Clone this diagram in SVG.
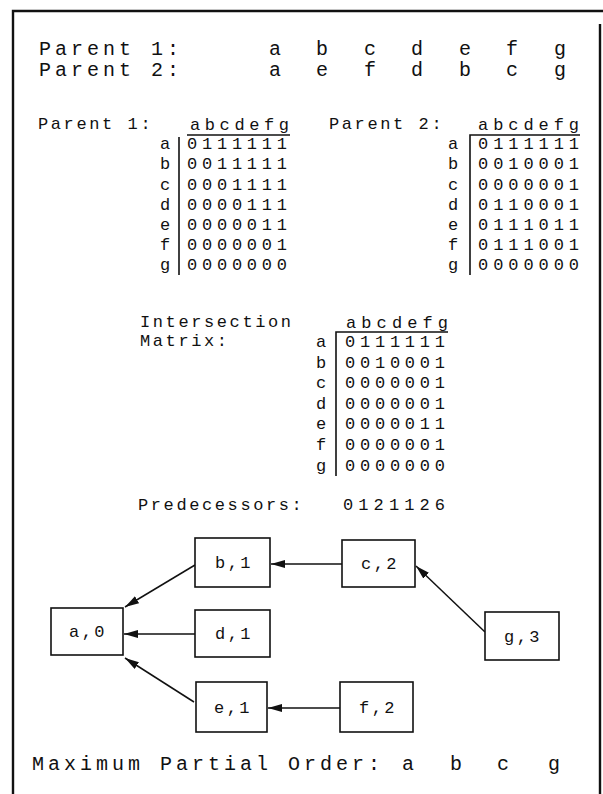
<svg xmlns="http://www.w3.org/2000/svg" width="603" height="794" viewBox="0 0 603 794">
<style>
text{font-family:"Liberation Mono","DejaVu Sans Mono",monospace;fill:#111}
.t{font-size:20px;letter-spacing:4px}
.tl{font-size:20px;text-anchor:middle}
.s{font-size:17px;letter-spacing:2.6px}
.m{font-size:17px}
.lb{font-size:17px;text-anchor:middle}
.n{font-size:17px;text-anchor:middle;letter-spacing:2.5px}
.ln{stroke:#111;stroke-width:1.6;fill:none}
.fr{stroke:#111;stroke-width:2.4;fill:none}
.box{stroke:#111;stroke-width:1.6;fill:#fff}
.edge{stroke:#111;stroke-width:1.5;fill:none;marker-end:url(#ah)}
</style>
<defs>
<marker id="ah" markerUnits="userSpaceOnUse" markerWidth="15" markerHeight="10" refX="14" refY="4" orient="auto">
<path d="M0,0 L14,4 L0,8 z" fill="#111"/>
</marker>
</defs>
<rect width="603" height="794" fill="#fff"/>
<g id="frame">
<path class="fr" d="M13,794 L13,11 L603,11"/>
<path class="fr" d="M600,24 L600,794"/>
</g>
<g id="parents">
<text class="t" x="39" y="55">Parent 1:</text>
<text class="t" x="39" y="76">Parent 2:</text>
<text class="tl" x="275" y="55">a</text><text class="tl" x="322" y="55">b</text><text class="tl" x="370" y="55">c</text><text class="tl" x="417" y="55">d</text><text class="tl" x="465" y="55">e</text><text class="tl" x="512" y="55">f</text><text class="tl" x="560" y="55">g</text>
<text class="tl" x="275" y="76">a</text><text class="tl" x="322" y="76">e</text><text class="tl" x="370" y="76">f</text><text class="tl" x="417" y="76">d</text><text class="tl" x="465" y="76">b</text><text class="tl" x="512" y="76">c</text><text class="tl" x="560" y="76">g</text>
</g>
<g id="matrix1">
<text class="s" x="38" y="129">Parent 1:</text>
<text class="m" x="190" y="130" textLength="99" lengthAdjust="spacing">abcdefg</text>
<line class="ln" x1="187" y1="135" x2="290" y2="135"/>
<line class="ln" x1="179" y1="137" x2="179" y2="275"/>
<text class="lb" x="165" y="149">a</text><text class="m" x="187" y="149" textLength="100" lengthAdjust="spacing">0111111</text>
<text class="lb" x="165" y="169">b</text><text class="m" x="187" y="169" textLength="100" lengthAdjust="spacing">0011111</text>
<text class="lb" x="165" y="189.5">c</text><text class="m" x="187" y="189.5" textLength="100" lengthAdjust="spacing">0001111</text>
<text class="lb" x="165" y="209.5">d</text><text class="m" x="187" y="209.5" textLength="100" lengthAdjust="spacing">0000111</text>
<text class="lb" x="165" y="230">e</text><text class="m" x="187" y="230" textLength="100" lengthAdjust="spacing">0000011</text>
<text class="lb" x="165" y="250">f</text><text class="m" x="187" y="250" textLength="100" lengthAdjust="spacing">0000001</text>
<text class="lb" x="165" y="270">g</text><text class="m" x="187" y="270" textLength="100" lengthAdjust="spacing">0000000</text>
</g>
<g id="matrix2">
<text class="s" x="329" y="129">Parent 2:</text>
<text class="m" x="478" y="130" textLength="101" lengthAdjust="spacing">abcdefg</text>
<path class="ln" d="M470,275 L470,135 L580,135"/>
<text class="lb" x="453" y="149">a</text><text class="m" x="478" y="149" textLength="101" lengthAdjust="spacing">0111111</text>
<text class="lb" x="453" y="169">b</text><text class="m" x="478" y="169" textLength="101" lengthAdjust="spacing">0010001</text>
<text class="lb" x="453" y="189.5">c</text><text class="m" x="478" y="189.5" textLength="101" lengthAdjust="spacing">0000001</text>
<text class="lb" x="453" y="209.5">d</text><text class="m" x="478" y="209.5" textLength="101" lengthAdjust="spacing">0110001</text>
<text class="lb" x="453" y="230">e</text><text class="m" x="478" y="230" textLength="101" lengthAdjust="spacing">0111011</text>
<text class="lb" x="453" y="250">f</text><text class="m" x="478" y="250" textLength="101" lengthAdjust="spacing">0111001</text>
<text class="lb" x="453" y="270">g</text><text class="m" x="478" y="270" textLength="101" lengthAdjust="spacing">0000000</text>
</g>
<g id="intersection">
<text class="s" x="140" y="327">Intersection</text>
<text class="s" x="140" y="346">Matrix:</text>
<text class="m" x="346" y="328" textLength="102" lengthAdjust="spacing">abcdefg</text>
<path class="ln" d="M336,476 L336,332 L448,332"/>
<text class="lb" x="321" y="347">a</text><text class="m" x="345" y="347" textLength="100" lengthAdjust="spacing">0111111</text>
<text class="lb" x="321" y="368">b</text><text class="m" x="345" y="368" textLength="100" lengthAdjust="spacing">0010001</text>
<text class="lb" x="321" y="388">c</text><text class="m" x="345" y="388" textLength="100" lengthAdjust="spacing">0000001</text>
<text class="lb" x="321" y="409">d</text><text class="m" x="345" y="409" textLength="100" lengthAdjust="spacing">0000001</text>
<text class="lb" x="321" y="429">e</text><text class="m" x="345" y="429" textLength="100" lengthAdjust="spacing">0000011</text>
<text class="lb" x="321" y="450">f</text><text class="m" x="345" y="450" textLength="100" lengthAdjust="spacing">0000001</text>
<text class="lb" x="321" y="471">g</text><text class="m" x="345" y="471" textLength="100" lengthAdjust="spacing">0000000</text>
</g>
<g id="predecessors">
<text class="s" x="138" y="510">Predecessors:</text>
<text class="m" x="343" y="510" textLength="102" lengthAdjust="spacing">0121126</text>
</g>
<g id="connectors">
<line class="edge" x1="195" y1="565" x2="125" y2="607"/>
<line class="edge" x1="195" y1="634" x2="124" y2="634"/>
<line class="edge" x1="194" y1="702" x2="125" y2="658"/>
<line class="edge" x1="342" y1="564" x2="271" y2="564"/>
<line class="edge" x1="340" y1="708" x2="268" y2="708"/>
<line class="edge" x1="485" y1="632" x2="416" y2="566"/>
</g>
<g id="node-a0"><rect class="box" x="51" y="608" width="72" height="47"/><text class="n" x="88" y="637">a,0</text></g>
<g id="node-b1"><rect class="box" x="195" y="538" width="75" height="49"/><text class="n" x="234" y="568">b,1</text></g>
<g id="node-c2"><rect class="box" x="342" y="540" width="73" height="47"/><text class="n" x="380" y="569">c,2</text></g>
<g id="node-d1"><rect class="box" x="195" y="610" width="75" height="47"/><text class="n" x="234" y="639">d,1</text></g>
<g id="node-g3"><rect class="box" x="485" y="612" width="74" height="48"/><text class="n" x="523" y="642">g,3</text></g>
<g id="node-e1"><rect class="box" x="196" y="682" width="71" height="50"/><text class="n" x="233" y="713">e,1</text></g>
<g id="node-f2"><rect class="box" x="340" y="682" width="73" height="50"/><text class="n" x="378" y="713">f,2</text></g>
<g id="result">
<text class="t" x="32" y="770">Maximum Partial Order:</text>
<text class="tl" x="408" y="770">a</text><text class="tl" x="456" y="770">b</text><text class="tl" x="503" y="770">c</text><text class="tl" x="554" y="770">g</text>
</g>
</svg>
